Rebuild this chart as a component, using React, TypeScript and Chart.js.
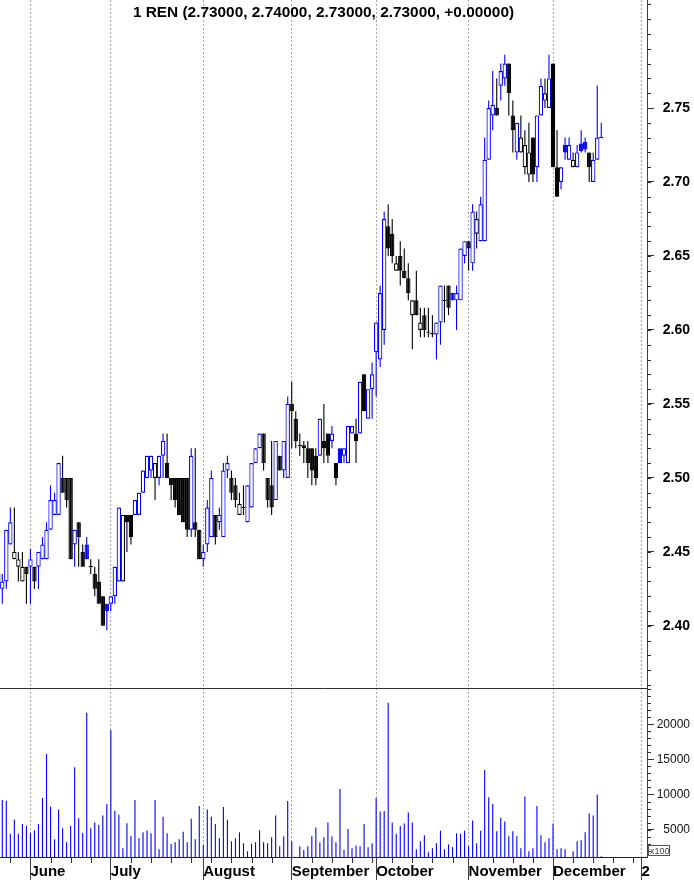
import React, { useEffect, useRef } from 'react';
import { Chart, registerables } from 'chart.js';

Chart.register(...registerables);

const TITLE = '1 REN (2.73000, 2.74000, 2.73000, 2.73000, +0.00000)';
const FONT = "'Liberation Sans', Arial, Helvetica, sans-serif";

// first bar index (one partially hidden bar on the left edge)
const FIRST_INDEX = -1;

const opens = [
  2.435,
  2.425, 2.43, 2.455, 2.445, 2.44, 2.43, 2.44, 2.44, 2.44, 2.44,
  2.445, 2.445, 2.465, 2.475, 2.475, 2.50, 2.50, 2.50, 2.455, 2.47,
  2.45, 2.455, 2.44, 2.435, 2.43, 2.42, 2.415, 2.415, 2.42, 2.43,
  2.43, 2.475, 2.475, 2.475, 2.475, 2.49, 2.50, 2.505, 2.50, 2.50,
  2.515, 2.51, 2.50, 2.50, 2.50, 2.50, 2.50, 2.465, 2.47, 2.465,
  2.445, 2.455, 2.46, 2.475, 2.47, 2.46, 2.505, 2.50, 2.495, 2.475,
  2.48, 2.47, 2.48, 2.51, 2.52, 2.53, 2.50, 2.495, 2.485, 2.515,
  2.505, 2.50, 2.55, 2.54, 2.522, 2.522, 2.52, 2.52, 2.515, 2.515,
  2.525, 2.53, 2.525, 2.51, 2.52, 2.515, 2.51, 2.53, 2.53, 2.53,
  2.57, 2.54, 2.56, 2.585, 2.58, 2.60, 2.67, 2.665, 2.64, 2.65,
  2.64, 2.635, 2.61, 2.62, 2.60, 2.61, 2.5985, 2.598, 2.597, 2.605,
  2.62, 2.63, 2.625, 2.62, 2.62, 2.65, 2.66, 2.645, 2.665, 2.66,
  2.66, 2.715, 2.745, 2.75, 2.765, 2.77, 2.78, 2.745, 2.72, 2.72,
  2.71, 2.705, 2.73, 2.71, 2.745, 2.755, 2.75, 2.78, 2.71, 2.70,
  2.725, 2.715, 2.71, 2.71, 2.726, 2.727, 2.72, 2.70, 2.715, 2.73,
];

const highs = [
  2.44,
  2.435, 2.465, 2.48, 2.48, 2.45, 2.45, 2.44, 2.452, 2.44, 2.45,
  2.46, 2.47, 2.495, 2.49, 2.51, 2.515, 2.50, 2.50, 2.465, 2.47,
  2.455, 2.46, 2.445, 2.44, 2.445, 2.42, 2.415, 2.42, 2.44, 2.48,
  2.475, 2.475, 2.475, 2.485, 2.49, 2.505, 2.515, 2.515, 2.51, 2.515,
  2.53, 2.53, 2.50, 2.50, 2.50, 2.50, 2.50, 2.52, 2.52, 2.465,
  2.455, 2.485, 2.505, 2.475, 2.48, 2.51, 2.515, 2.505, 2.50, 2.49,
  2.495, 2.495, 2.51, 2.52, 2.53, 2.53, 2.50, 2.525, 2.525, 2.515,
  2.525, 2.555, 2.565, 2.545, 2.53, 2.525, 2.525, 2.52, 2.52, 2.54,
  2.55, 2.53, 2.535, 2.51, 2.52, 2.52, 2.535, 2.535, 2.54, 2.565,
  2.57, 2.56, 2.578, 2.605, 2.63, 2.68, 2.685, 2.675, 2.65, 2.66,
  2.655, 2.645, 2.62, 2.64, 2.615, 2.615, 2.615, 2.61, 2.605, 2.63,
  2.63, 2.63, 2.625, 2.63, 2.655, 2.66, 2.66, 2.685, 2.68, 2.69,
  2.73, 2.755, 2.775, 2.77, 2.78, 2.786, 2.78, 2.755, 2.74, 2.745,
  2.735, 2.74, 2.73, 2.745, 2.77, 2.77, 2.786, 2.78, 2.735, 2.71,
  2.73, 2.73, 2.72, 2.725, 2.735, 2.73, 2.72, 2.72, 2.765, 2.74,
];

const lows = [
  2.425,
  2.415, 2.425, 2.455, 2.445, 2.43, 2.43, 2.415, 2.415, 2.425, 2.425,
  2.445, 2.445, 2.465, 2.475, 2.475, 2.49, 2.48, 2.445, 2.44, 2.44,
  2.44, 2.445, 2.435, 2.42, 2.415, 2.40, 2.397, 2.41, 2.415, 2.43,
  2.43, 2.45, 2.455, 2.475, 2.475, 2.49, 2.50, 2.50, 2.485, 2.495,
  2.50, 2.50, 2.485, 2.48, 2.475, 2.47, 2.46, 2.46, 2.46, 2.445,
  2.44, 2.45, 2.46, 2.455, 2.465, 2.46, 2.50, 2.485, 2.48, 2.475,
  2.475, 2.47, 2.48, 2.51, 2.52, 2.505, 2.48, 2.475, 2.485, 2.505,
  2.50, 2.50, 2.52, 2.52, 2.515, 2.51, 2.50, 2.495, 2.495, 2.515,
  2.51, 2.51, 2.52, 2.495, 2.51, 2.51, 2.51, 2.53, 2.51, 2.53,
  2.545, 2.54, 2.54, 2.555, 2.575, 2.59, 2.65, 2.645, 2.64, 2.63,
  2.635, 2.62, 2.587, 2.61, 2.595, 2.595, 2.595, 2.595, 2.58, 2.59,
  2.605, 2.61, 2.62, 2.60, 2.62, 2.645, 2.64, 2.64, 2.655, 2.66,
  2.66, 2.715, 2.735, 2.745, 2.755, 2.765, 2.745, 2.72, 2.715, 2.72,
  2.705, 2.70, 2.70, 2.70, 2.745, 2.75, 2.75, 2.71, 2.69, 2.695,
  2.715, 2.715, 2.71, 2.71, 2.72, 2.72, 2.70, 2.70, 2.715, 2.73,
];

const closes = [
  2.43,
  2.43, 2.465, 2.47, 2.45, 2.445, 2.44, 2.435, 2.445, 2.43, 2.45,
  2.455, 2.465, 2.485, 2.485, 2.51, 2.49, 2.485, 2.445, 2.465, 2.46,
  2.44, 2.445, 2.44, 2.425, 2.415, 2.40, 2.41, 2.42, 2.44, 2.48,
  2.475, 2.47, 2.46, 2.485, 2.49, 2.505, 2.515, 2.515, 2.51, 2.515,
  2.525, 2.50, 2.495, 2.485, 2.475, 2.47, 2.465, 2.515, 2.465, 2.445,
  2.45, 2.48, 2.50, 2.46, 2.475, 2.505, 2.51, 2.49, 2.485, 2.4825,
  2.48, 2.495, 2.51, 2.52, 2.53, 2.51, 2.485, 2.48, 2.525, 2.505,
  2.525, 2.55, 2.545, 2.525, 2.522, 2.52, 2.51, 2.505, 2.50, 2.54,
  2.52, 2.515, 2.53, 2.50, 2.51, 2.52, 2.535, 2.535, 2.525, 2.565,
  2.545, 2.56, 2.57, 2.605, 2.625, 2.675, 2.655, 2.65, 2.645, 2.64,
  2.635, 2.625, 2.62, 2.61, 2.605, 2.60, 2.5985, 2.597, 2.605, 2.63,
  2.62, 2.615, 2.62, 2.625, 2.655, 2.66, 2.655, 2.68, 2.675, 2.685,
  2.715, 2.75, 2.752, 2.745, 2.775, 2.78, 2.76, 2.735, 2.74, 2.73,
  2.725, 2.72, 2.705, 2.745, 2.765, 2.76, 2.77, 2.71, 2.69, 2.71,
  2.72, 2.725, 2.715, 2.72, 2.721, 2.722, 2.71, 2.715, 2.73, 2.73,
];

// volume in hundreds of shares (axis marked x100)
const volumes = [
  5000,
  9200, 9100, 4400, 6450, 4400, 5800, 5550, 4500, 4900, 5800,
  9500, 15760, 8270, 3630, 7850, 5190, 3200, 5500, 13870, 6600,
  4500, 21650, 5190, 6000, 5640, 7000, 8650, 19175, 7700, 7130,
  2340, 5900, 4100, 9220, 3770, 4620, 4855, 4480, 9220, 2200,
  6840, 4480, 2960, 3200, 3630, 4710, 3200, 6560, 3630, 8370,
  2820, 7850, 6840, 5800, 3770, 8220, 6420, 3340, 3770, 4620,
  3060, 1920, 2960, 3200, 4900, 3200, 3060, 3910, 7000, 2630,
  4050, 9080, 3340, null, 2630, 2100, 2630, 4050, 5300, 3200,
  3910, 6000, 4050, 3200, 10780, 2100, 5080, 2340, 2750, 2630,
  5800, 2500, 3060, 9500, 7570, 7660, 23050, 6000, 4400, 5500,
  5870, 7440, 6000, 2200, 3340, 4200, 1780, 2340, 3060, 4850,
  2200, 2900, 2500, 4480, 4400, 4850, 2630, 6300, 3060, 4850,
  13500, 9600, 8650, 4760, 6700, 6140, 4050, 4760, 4050, 2340,
  9700, 1920, 2340, 8370, 4200, 3200, 3770, 5870, 2200, 2340,
  2200, null, 1920, 3340, 3480, 4620, 7300, 7000, 10000, 1200,
];

const monthLabels = ['June', 'July', 'August', 'September', 'October', 'November', 'December', '2'];
const monthStarts = [7, 27, 50, 72, 93, 116, 137, 159];
const weekTicks = [2, 12, 17, 22, 32, 37, 42, 47, 52, 57, 62, 67, 77, 82, 87, 92, 97, 102, 107, 112, 122, 127, 132, 142, 147, 152, 157];
const priceTicks = [2.40, 2.45, 2.50, 2.55, 2.60, 2.65, 2.70, 2.75];
const volumeTicks = [5000, 10000, 15000, 20000];

const X_MIN = -0.572;
const X_MAX = 160.38;
const PRICE_MIN = 2.358;
const PRICE_MAX = 2.823;
const PRICE_MINOR = 0.01;
const VOL_MIN = 1100;
const VOL_MAX = 25160;
const VOL_MINOR = 1000;
const DOJI = 0.0009;

const BLUE = '#0000ff';
const BLACK = '#000000';
const VOL_COLOR = '#0000ff';

const decorPlugin = {
  id: 'decor',
  afterDraw(chart: any) {
    const { ctx, chartArea } = chart;
    const xs = chart.scales.x;
    const yp = chart.scales.y;
    const yv = chart.scales.yv;
    ctx.save();
    ctx.lineWidth = 1;
    ctx.strokeStyle = '#303030';
    ctx.beginPath();
    const sepY = Math.round(yp.bottom) + 0.5;
    ctx.moveTo(chartArea.left, sepY);
    ctx.lineTo(chartArea.right, sepY);
    for (let k = Math.ceil(PRICE_MIN / PRICE_MINOR); k <= Math.floor(PRICE_MAX / PRICE_MINOR); k++) {
      const py = Math.round(yp.getPixelForValue(k * PRICE_MINOR)) + 0.5;
      ctx.moveTo(yp.left, py);
      ctx.lineTo(yp.left + 4, py);
    }
    for (let v = Math.ceil(VOL_MIN / VOL_MINOR) * VOL_MINOR; v < VOL_MAX; v += VOL_MINOR) {
      const py = Math.round(yv.getPixelForValue(v)) + 0.5;
      ctx.moveTo(yv.left, py);
      ctx.lineTo(yv.left + 4, py);
    }
    for (const w of weekTicks) {
      const px = Math.round(xs.getPixelForValue(w)) + 0.5;
      ctx.moveTo(px, xs.top);
      ctx.lineTo(px, xs.top + 6);
    }
    ctx.stroke();
    // "x100" unit box of the volume axis
    const bx = Math.round(yv.left) + 1.5;
    const by = Math.round(yv.bottom) - 11.5;
    ctx.strokeStyle = '#555';
    ctx.strokeRect(bx, by, 21, 10);
    ctx.fillStyle = '#444';
    ctx.font = `9px ${FONT}`;
    ctx.textBaseline = 'alphabetic';
    ctx.textAlign = 'left';
    ctx.fillText('x100', bx + 1.5, by + 8.5);
    ctx.restore();
  },
};

export default function App() {
  const ref = useRef<HTMLCanvasElement>(null);

  useEffect(() => {
    const canvas = ref.current;
    if (!canvas) return;
    const xs = closes.map((_, k) => k + FIRST_INDEX);
    const up = closes.map((c, k) => c >= (k > 0 ? closes[k - 1] : opens[k]));
    const colors = up.map((u) => (u ? BLUE : BLACK));
    const wickData = xs.map((x, k) => ({ x, y: [lows[k], highs[k]] }));
    const bodyData = xs.map((x, k) => {
      const o = opens[k];
      const c = closes[k];
      let lo = Math.min(o, c);
      let hi = Math.max(o, c);
      if (hi - lo < DOJI) {
        const m = (hi + lo) / 2;
        lo = m - DOJI / 2;
        hi = m + DOJI / 2;
      }
      return { x, y: [lo, hi] };
    });
    const bodyFill = xs.map((_, k) =>
      closes[k] - opens[k] >= DOJI ? '#ffffff' : colors[k]
    );
    const volData = xs.map((x, k) => ({ x, y: volumes[k] }));

    const chart = new Chart(canvas, {
      type: 'bar',
      data: {
        datasets: [
          {
            label: 'body',
            data: bodyData as any,
            backgroundColor: bodyFill,
            borderColor: colors,
            borderWidth: 1.2,
            borderSkipped: false,
            barThickness: 4.4,
            inflateAmount: 0,
            grouped: false,
            xAxisID: 'x',
            yAxisID: 'y',
            order: 0,
          } as any,
          {
            label: 'wick',
            data: wickData as any,
            backgroundColor: colors,
            borderWidth: 0,
            barThickness: 1.1,
            inflateAmount: 0,
            grouped: false,
            xAxisID: 'x',
            yAxisID: 'y',
            order: 1,
          } as any,
          {
            label: 'volume',
            data: volData as any,
            backgroundColor: VOL_COLOR,
            borderWidth: 0,
            barThickness: 1.1,
            inflateAmount: 0,
            grouped: false,
            xAxisID: 'x',
            yAxisID: 'yv',
            order: 2,
          } as any,
        ],
      },
      options: {
        animation: false,
        responsive: false,
        maintainAspectRatio: false,
        events: [],
        layout: { padding: { left: 0, top: 0, bottom: 0, right: 4 } },
        plugins: { legend: { display: false }, tooltip: { enabled: false }, title: { display: false } },
        scales: {
          x: {
            type: 'linear',
            position: 'bottom',
            min: X_MIN,
            max: X_MAX,
            offset: false,
            afterBuildTicks: (s: any) => {
              s.ticks = monthStarts.map((v) => ({ value: v }));
            },
            afterFit: (s: any) => {
              s.height = 23;
              s.paddingLeft = 0;
              s.paddingRight = 0;
            },
            ticks: {
              autoSkip: false,
              maxRotation: 0,
              minRotation: 0,
              align: 'start',
              padding: -17,
              color: '#000',
              font: { family: FONT, size: 15, weight: 'bold' },
              callback: (_v: any, i: number) => monthLabels[i],
            },
            grid: {
              display: true,
              drawOnChartArea: true,
              drawTicks: true,
              tickLength: 23,
              color: '#a8a8a8',
              lineWidth: 1,
              tickColor: '#404040',
              tickWidth: 1,
              tickBorderDash: [],
              offset: false,
            },
            border: { display: true, color: '#202020', width: 1, dash: [2, 2] },
          } as any,
          y: {
            type: 'linear',
            position: 'right',
            stack: 'panes',
            stackWeight: 688,
            min: PRICE_MIN,
            max: PRICE_MAX,
            afterBuildTicks: (s: any) => {
              s.ticks = priceTicks.map((v) => ({ value: v }));
            },
            afterFit: (s: any) => {
              s.width = 43;
              s.paddingTop = 0;
              s.paddingBottom = 0;
            },
            ticks: {
              autoSkip: false,
              crossAlign: 'far',
              padding: 4,
              color: '#000',
              font: { family: FONT, size: 14, weight: 'bold' },
              callback: (v: any) => Number(v).toFixed(2),
            },
            grid: { drawOnChartArea: false, drawTicks: true, tickLength: 7, tickColor: '#303030' },
            border: { display: true, color: '#404040', width: 1 },
          } as any,
          yv: {
            type: 'linear',
            position: 'right',
            stack: 'panes',
            stackWeight: 169,
            min: VOL_MIN,
            max: VOL_MAX,
            afterBuildTicks: (s: any) => {
              s.ticks = volumeTicks.map((v) => ({ value: v }));
            },
            afterFit: (s: any) => {
              s.width = 43;
              s.paddingTop = 0;
              s.paddingBottom = 0;
            },
            ticks: {
              autoSkip: false,
              crossAlign: 'far',
              padding: 4,
              color: '#111',
              font: { family: FONT, size: 12 },
              callback: (v: any) => String(Math.round(Number(v))),
            },
            grid: { drawOnChartArea: false, drawTicks: true, tickLength: 7, tickColor: '#303030' },
            border: { display: true, color: '#404040', width: 1 },
          } as any,
        },
      },
      plugins: [decorPlugin],
    });
    return () => chart.destroy();
  }, []);

  return (
    <div style={{ position: 'absolute', left: 0, top: 0, width: 694, height: 880, background: '#fff' }}>
      <canvas ref={ref} width={694} height={880} style={{ display: 'block', width: 694, height: 880 }} />
      <div
        style={{
          position: 'absolute',
          left: 0,
          top: 2,
          width: 647,
          textAlign: 'center',
          font: `bold 15.4px ${FONT}`,
          lineHeight: '20px',
          color: '#000',
          pointerEvents: 'none',
          whiteSpace: 'nowrap',
        }}
      >
        {TITLE}
      </div>
    </div>
  );
}
